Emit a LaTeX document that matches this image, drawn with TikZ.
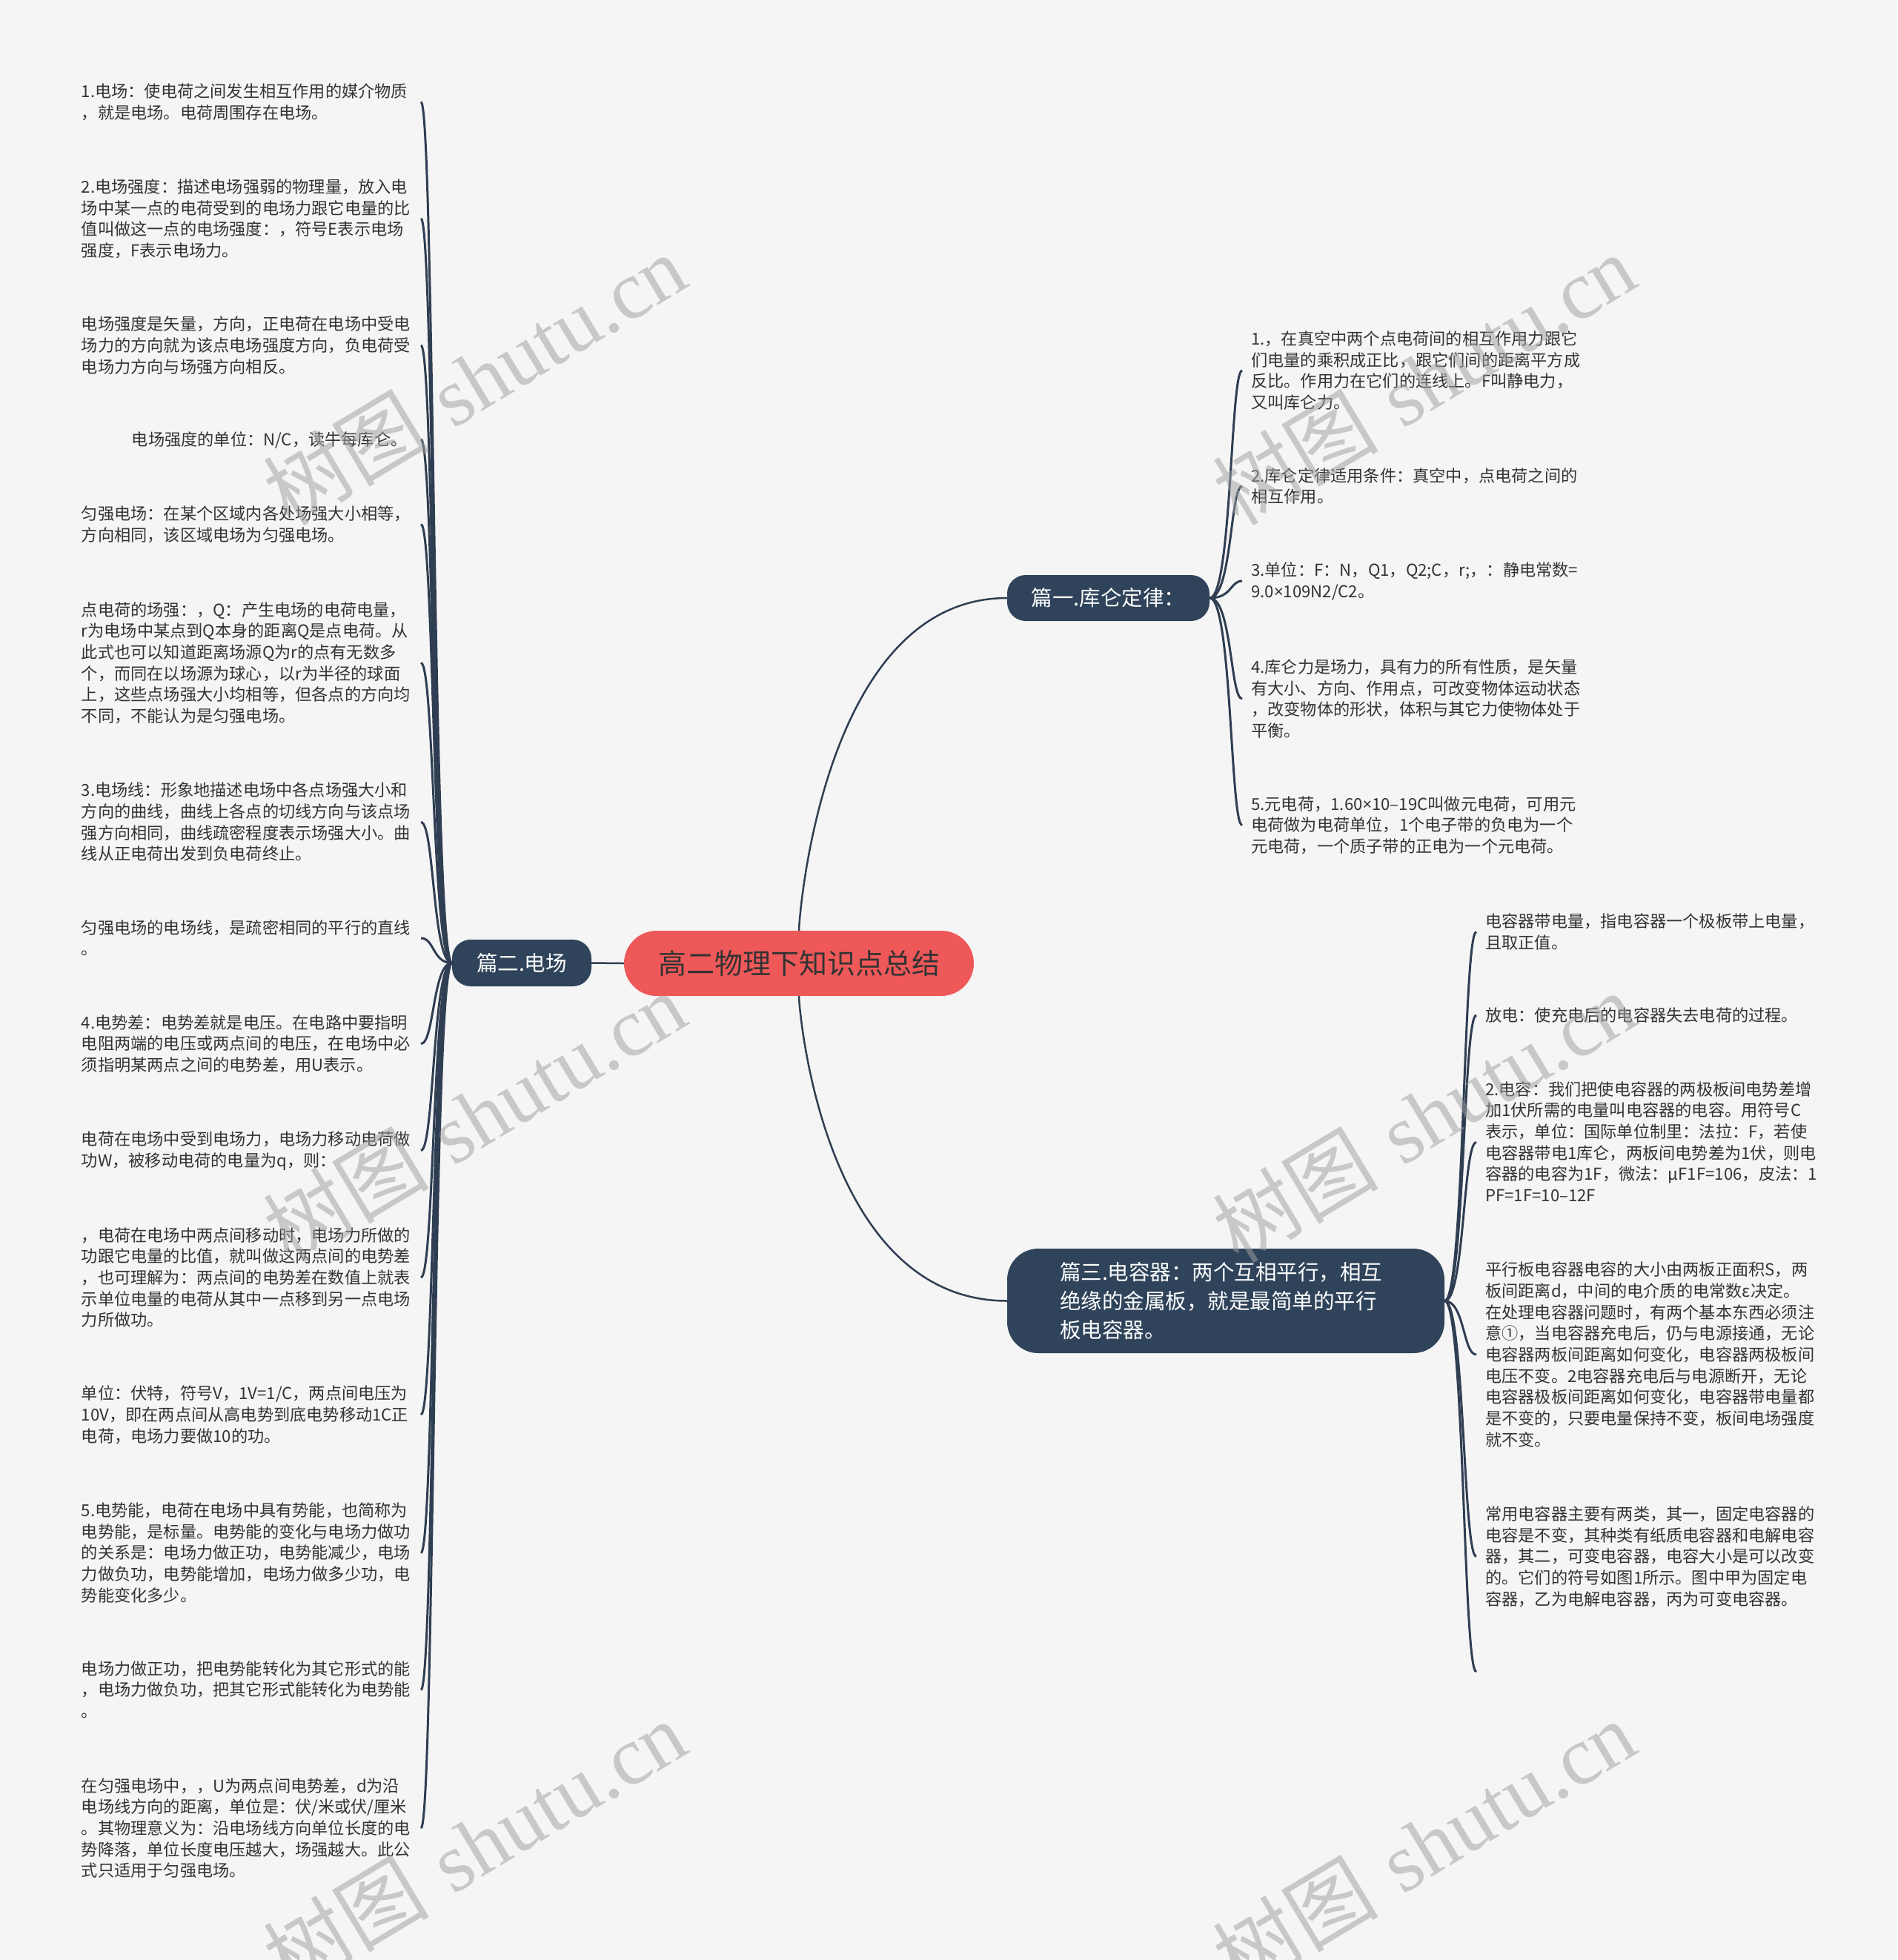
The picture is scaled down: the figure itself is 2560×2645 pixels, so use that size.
\documentclass[tikz,border=0pt]{standalone}
\usepackage{fontspec}
\newfontfamily\cjk{Noto Sans CJK SC}
\newfontfamily\latinf{Noto Sans}
\newfontfamily\wmserif{Liberation Serif}
\newcommand\tms{{\latinf ×}}
\definecolor{bgc}{HTML}{F5F5F5}
\definecolor{rootc}{HTML}{EF5858}
\definecolor{branchc}{HTML}{2F435A}
\definecolor{linec}{HTML}{2F3E52}
\definecolor{txtc}{HTML}{333333}
\definecolor{wmc}{HTML}{A0A0A0}
\begin{document}
\begin{tikzpicture}[x=1pt,y=-1pt,
  rootbox/.style={fill=rootc, rounded corners=44pt, minimum width=472pt, minimum height=88pt,
    inner sep=0pt, text=txtc, font=\cjk\fontsize{38}{46}\selectfont,
    execute at begin node={\rule[-5.6pt]{0pt}{40.1pt}}},
  branchbox/.style={fill=branchc, text=white, inner sep=0pt, rounded corners=25pt,
    font=\cjk\fontsize{28.5}{39}\selectfont,
    execute at begin node={\rule[-4.3pt]{0pt}{30.3pt}},
    execute at end node={\rule[-4.3pt]{0pt}{4.3pt}}},
  leafbase/.style={text width=446pt, align=left, inner xsep=12pt, inner ysep=0pt, text=txtc,
    font=\cjk\fontsize{22.2}{28.7}\selectfont,
    execute at begin node={\rule[-3.2pt]{0pt}{23.2pt}},
    execute at end node={\rule[-3.2pt]{0pt}{3.2pt}}},
  leafL/.style={leafbase, anchor=east},
  leafR/.style={leafbase, anchor=west, text width=460pt},
  conn/.style={draw=linec, line width=3pt},
  mainconn/.style={draw=linec, line width=2.5pt},
  wm/.style={rotate=31, text=wmc, opacity=0.53, inner sep=0pt, font=\fontsize{112}{112}\selectfont}
]
\useasboundingbox (0,0) rectangle (2560,2645);
\fill[bgc] (0,0) rectangle (2560,2645);

% main nodes
\node[rootbox] (root) at (1078,1300) {高二物理下知识点总结};
\node[branchbox, minimum width=273pt, minimum height=62pt] (b1) at (1495.5,807) {篇一.库仑定律：};
\node[branchbox, minimum width=188pt, minimum height=63pt] (b2) at (704,1299.5) {篇二.电场};
\node[branchbox, text width=448pt, align=left, inner xsep=71pt, minimum height=141pt, rounded corners=42pt] (b3) at (1654,1755.5) {篇三.电容器：两个互相平行，相互\\绝缘的金属板，就是最简单的平行\\板电容器。};

% left leaves
\node[leafL] (L1) at (568,137.5) {1.电场：使电荷之间发生相互作用的媒介物质\\，就是电场。电荷周围存在电场。};
\node[leafL] (L2) at (568,295) {2.电场强度：描述电场强弱的物理量，放入电\\场中某一点的电荷受到的电场力跟它电量的比\\值叫做这一点的电场强度：，符号E表示电场\\强度，F表示电场力。};
\node[leafL] (L3) at (568,466) {电场强度是矢量，方向，正电荷在电场中受电\\场力的方向就为该点电场强度方向，负电荷受\\电场力方向与场强方向相反。};
\node[leafL] (L4) at (568,593) {\hspace*{68pt}电场强度的单位：N/C，读牛每库仑。};
\node[leafL] (L5) at (568,707.5) {匀强电场：在某个区域内各处场强大小相等，\\方向相同，该区域电场为匀强电场。};
\node[leafL] (L6) at (568,894.5) {点电荷的场强：，Q：产生电场的电荷电量，\\r为电场中某点到Q本身的距离Q是点电荷。从\\此式也可以知道距离场源Q为r的点有无数多\\个，而同在以场源为球心，以r为半径的球面\\上，这些点场强大小均相等，但各点的方向均\\不同，不能认为是匀强电场。};
\node[leafL] (L7) at (568,1109.5) {3.电场线：形象地描述电场中各点场强大小和\\方向的曲线，曲线上各点的切线方向与该点场\\强方向相同，曲线疏密程度表示场强大小。曲\\线从正电荷出发到负电荷终止。};
\node[leafL] (L8) at (568,1266) {匀强电场的电场线，是疏密相同的平行的直线\\。};
\node[leafL] (L9) at (568,1408.5) {4.电势差：电势差就是电压。在电路中要指明\\电阻两端的电压或两点间的电压，在电场中必\\须指明某两点之间的电势差，用U表示。};
\node[leafL] (L10) at (568,1552.5) {电荷在电场中受到电场力，电场力移动电荷做\\功W，被移动电荷的电量为q，则：};
\node[leafL] (L11) at (568,1724) {，电荷在电场中两点间移动时，电场力所做的\\功跟它电量的比值，就叫做这两点间的电势差\\，也可理解为：两点间的电势差在数值上就表\\示单位电量的电荷从其中一点移到另一点电场\\力所做功。};
\node[leafL] (L12) at (568,1909) {单位：伏特，符号V，1V=1/C，两点间电压为\\10V，即在两点间从高电势到底电势移动1C正\\电荷，电场力要做10的功。};
\node[leafL] (L13) at (568,2095.5) {5.电势能，电荷在电场中具有势能，也简称为\\电势能，是标量。电势能的变化与电场力做功\\的关系是：电场力做正功，电势能减少，电场\\力做负功，电势能增加，电场力做多少功，电\\势能变化多少。};
\node[leafL] (L14) at (568,2280.5) {电场力做正功，把电势能转化为其它形式的能\\，电场力做负功，把其它形式能转化为电势能\\。};
\node[leafL] (L15) at (568,2467) {在匀强电场中，，U为两点间电势差，d为沿\\电场线方向的距离，单位是：伏/米或伏/厘米\\。其物理意义为：沿电场线方向单位长度的电\\势降落，单位长度电压越大，场强越大。此公\\式只适用于匀强电场。};

% right leaves (part 1)
\node[leafR] (R1) at (1676,500) {1.，在真空中两个点电荷间的相互作用力跟它\\们电量的乘积成正比，跟它们间的距离平方成\\反比。作用力在它们的连线上。F叫静电力，\\又叫库仑力。};
\node[leafR] (R2) at (1676,656) {2.库仑定律适用条件：真空中，点电荷之间的\\相互作用。};
\node[leafR] (R3) at (1676,784) {3.单位：F：N，Q1，Q2;C，r;，：静电常数=\\9.0\tms 109N2/C2。};
\node[leafR] (R4) at (1676,943) {4.库仑力是场力，具有力的所有性质，是矢量\\有大小、方向、作用点，可改变物体运动状态\\，改变物体的形状，体积与其它力使物体处于\\平衡。};
\node[leafR] (R5) at (1676,1113.5) {5.元电荷，1.60\tms 10–19C叫做元电荷，可用元\\电荷做为电荷单位，1个电子带的负电为一个\\元电荷，一个质子带的正电为一个元电荷。};

% right leaves (part 3)
\node[leafR] (C1) at (1992,1257.5) {电容器带电量，指电容器一个极板带上电量，\\且取正值。};
\node[leafR] (C2) at (1992,1370) {放电：使充电后的电容器失去电荷的过程。};
\node[leafR] (C3) at (1992,1541.5) {2.电容：我们把使电容器的两极板间电势差增\\加1伏所需的电量叫电容器的电容。用符号C\\表示，单位：国际单位制里：法拉：F，若使\\电容器带电1库仑，两板间电势差为1伏，则电\\容器的电容为1F，微法：μF1F=106，皮法：1\\PF=1F=10–12F};
\node[leafR] (C4) at (1992,1828) {平行板电容器电容的大小由两板正面积S，两\\板间距离d，中间的电介质的电常数ε决定。\\在处理电容器问题时，有两个基本东西必须注\\意①，当电容器充电后，仍与电源接通，无论\\电容器两板间距离如何变化，电容器两极板间\\电压不变。2电容器充电后与电源断开，无论\\电容器极板间距离如何变化，电容器带电量都\\是不变的，只要电量保持不变，板间电场强度\\就不变。};
\node[leafR] (C5) at (1992,2100.5) {常用电容器主要有两类，其一，固定电容器的\\电容是不变，其种类有纸质电容器和电解电容\\器，其二，可变电容器，电容大小是可以改变\\的。它们的符号如图1所示。图中甲为固定电\\容器，乙为电解电容器，丙为可变电容器。};
\coordinate (C6) at (1992,2256);

% main connectors
\draw[mainconn] (root.west) -- (b2.east);
\draw[mainconn] (root.north) .. controls +(0,-16) and +(-249,0) .. (b1.west);
\draw[mainconn] (root.south) .. controls +(0,16) and +(-249,0) .. (b3.west);

% leaf connectors
\foreach \n in {L1,L2,L3,L4,L5,L6,L7,L8,L9,L10,L11,L12,L13,L14,L15}
  \draw[conn] (b2.west) .. controls +(-26,0) and +(18,0) .. (\n.east);
\foreach \n in {R1,R2,R3,R4,R5}
  \draw[conn] (b1.east) .. controls +(30,0) and +(-16,0) .. (\n.west);
\foreach \n in {C1,C2,C3,C4,C5}
  \draw[conn] (b3.east) .. controls +(27,0) and +(-18,0) .. (\n.west);
\draw[conn] (b3.east) .. controls +(27,0) and +(-18,0) .. (C6);

% watermarks
\node[wm] (wm1) at (640,512) {{\cjk 树图} {\wmserif shutu.cn}};
\node[wm] (wm2) at (1921,512) {{\cjk 树图} {\wmserif shutu.cn}};
\node[wm] (wm3) at (640,1507) {{\cjk 树图} {\wmserif shutu.cn}};
\node[wm] (wm4) at (1921,1507) {{\cjk 树图} {\wmserif shutu.cn}};
\node[wm] (wm5) at (640,2490) {{\cjk 树图} {\wmserif shutu.cn}};
\node[wm] (wm6) at (1921,2490) {{\cjk 树图} {\wmserif shutu.cn}};
\end{tikzpicture}
\end{document}
